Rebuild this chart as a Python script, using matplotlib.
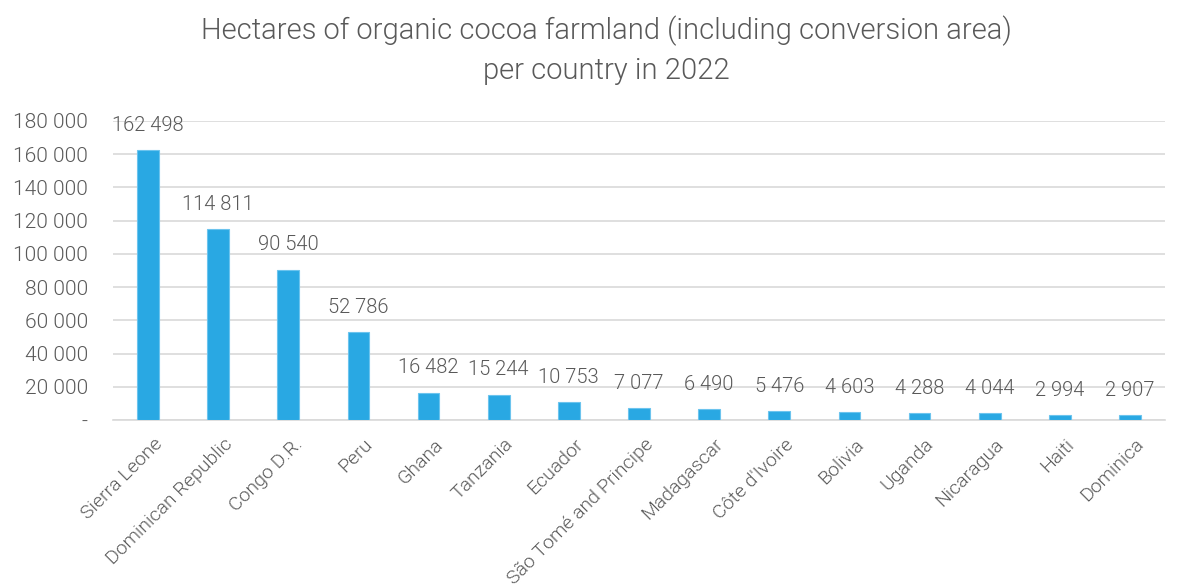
import matplotlib
matplotlib.use("Agg")
import matplotlib.pyplot as plt
import matplotlib.transforms as mtrans
from matplotlib.ticker import FuncFormatter, MultipleLocator

countries = ["Sierra Leone", "Dominican Republic", "Congo D.R.", "Peru", "Ghana",
             "Tanzania", "Ecuador", "São Tomé and Principe", "Madagascar",
             "Côte d'Ivoire", "Bolivia", "Uganda", "Nicaragua", "Haiti", "Dominica"]
hectares = [162498, 114811, 90540, 52786, 16482, 15244, 10753, 7077, 6490,
            5476, 4603, 4288, 4044, 2994, 2907]

title = "Hectares of organic cocoa farmland (including conversion area)\nper country in 2022"

plt.rcParams['font.family'] = ['Roboto', 'DejaVu Sans']
TXT = "#595959"
W = 300

fig = plt.figure(figsize=(11.81, 5.86), dpi=100)
ax = fig.add_axes([113/1181, 1-420/586, (1165-113)/1181, (420-121)/586])

x = list(range(len(countries)))
ax.bar(x, hectares, width=0.31, color="#29a8e3", edgecolor="#6cc4ee", linewidth=0.8, zorder=3)

ax.set_ylim(0, 180000)
ax.set_xlim(-0.5, len(countries) - 0.5)
ax.yaxis.set_major_locator(MultipleLocator(20000))
ax.yaxis.grid(True, color="#d9d9d9", linewidth=1.2, zorder=0)

def fmt(v, pos=None):
    if v == 0:
        return "-"
    return f"{int(round(v)):,}".replace(",", " ")

ax.yaxis.set_major_formatter(FuncFormatter(fmt))
for s in ["top", "right", "left"]:
    ax.spines[s].set_visible(False)
ax.spines["bottom"].set_color("#d9d9d9")
ax.spines["bottom"].set_linewidth(1.2)
ax.tick_params(axis="both", length=0, colors=TXT)
ax.tick_params(axis="y", labelsize=15, pad=18)
ax.set_xticks(x)
ax.set_xticklabels(countries, rotation=45, ha="right", rotation_mode="anchor",
                   fontsize=14, color=TXT, fontweight=W)
for lab in ax.get_yticklabels():
    lab.set_fontweight(W)
ax.tick_params(axis="x", pad=11)
shift = mtrans.ScaledTranslation(5/100, 0, fig.dpi_scale_trans)
for lab in ax.get_xticklabels():
    lab.set_transform(lab.get_transform() + shift)

for xi, v in zip(x, hectares):
    ax.annotate(fmt(v), (xi, v), xytext=(0, 11), textcoords="offset points",
                ha="center", va="bottom", fontsize=14.5, color=TXT,
                fontweight=W, annotation_clip=False)

fig.text(606/1181, 1-50/586, title, ha="center", va="center", fontsize=21,
         color=TXT, fontweight=W, linespacing=1.5)

fig.savefig("out.png", dpi=100)
